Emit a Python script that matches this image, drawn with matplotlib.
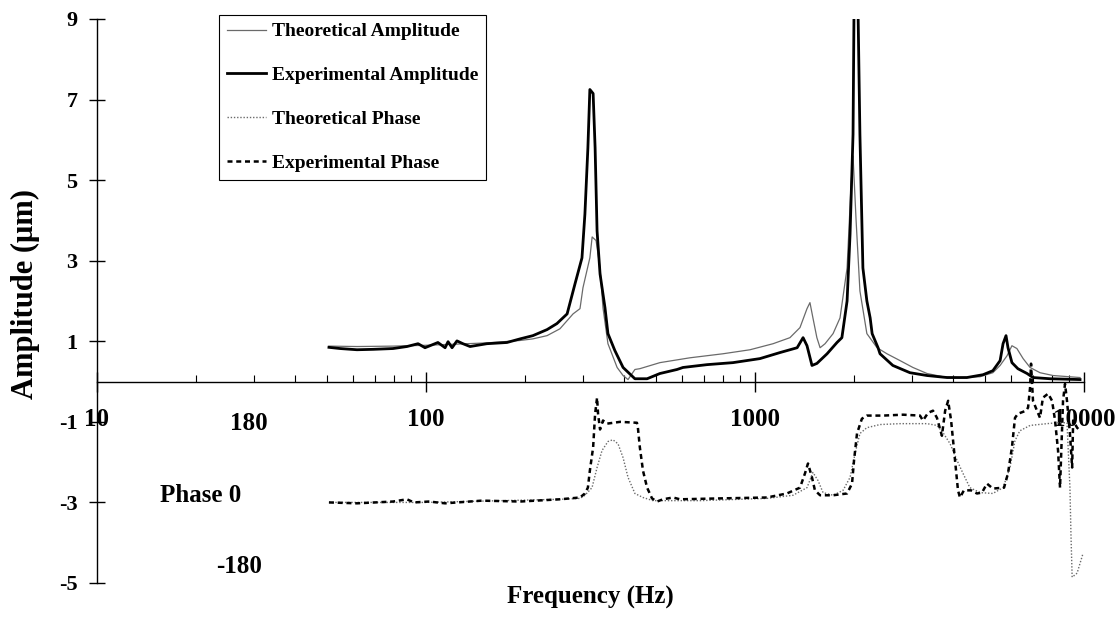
import matplotlib
matplotlib.use("Agg")
import matplotlib.pyplot as plt
from matplotlib.ticker import LogLocator, NullFormatter
import numpy as np

# ---------------- data ----------------
exp_amp_freq = [50.7, 54.8, 61.7, 69.0, 79.4, 87.5, 94.6, 99.3, 108.7, 114.3, 116.7, 120.0,
                124.2, 129.5, 136.1, 153.1, 176.2, 193.2, 211.3, 233.3, 250.0, 268.5, 283.8,
                297.9, 304.1, 310.5, 314.8, 322.1, 326.6, 331.1, 338.1, 350.0, 357.3, 375.0,
                397.2, 431.5, 469.9, 514.0, 579.4, 604, 714.5, 857, 1035, 1191, 1343, 1400,
                1439, 1490, 1542, 1656, 1775, 1837, 1905, 1945, 1986, 2000, 2056, 2084, 2128,
                2188, 2239, 2270, 2366, 2399, 2624, 2958, 3334, 3837, 4406, 4932, 5284, 5559,
                5675, 5794, 5875, 6039, 6295, 6714, 6998, 7889, 9727]
exp_amp = [0.85, 0.82, 0.79, 0.80, 0.82, 0.87, 0.94, 0.84, 0.97, 0.84, 0.99, 0.84,
           1.01, 0.94, 0.87, 0.94, 0.97, 1.06, 1.14, 1.29, 1.44, 1.68, 2.43,
           3.07, 4.16, 5.80, 7.25, 7.15, 5.80, 3.74, 2.67, 1.83, 1.19, 0.77,
           0.35, 0.07, 0.07, 0.20, 0.30, 0.35, 0.42, 0.47, 0.57, 0.72, 0.84, 1.09,
           0.89, 0.40, 0.45, 0.69, 0.97, 1.09, 2.00, 3.66, 6.14, 9.3, 9.3, 6.14, 2.82,
           2.00, 1.58, 1.19, 0.84, 0.69, 0.40, 0.22, 0.15, 0.10, 0.10, 0.17, 0.27, 0.52,
           0.94, 1.14, 0.84, 0.47, 0.32, 0.20, 0.10, 0.07, 0.05]

theo_amp_freq = [50.7, 61.7, 79.4, 99.3, 124.2, 153.1, 193.2, 211.3, 233.3, 255.3, 279.9,
                 293.8, 300.0, 314.8, 319.9, 328.8, 338.1, 345.1, 357.3, 381.0, 397.2, 411.2,
                 431.5, 446.7, 514.0, 634, 799, 966, 1135, 1277, 1370, 1439, 1469, 1500, 1542,
                 1577, 1633, 1727, 1813, 1905, 1959, 1986, 2029, 2084, 2188, 2350, 2518, 2760,
                 3020, 3334, 3727, 4198, 4830, 5284, 5559, 5834, 6039, 6252, 6531, 6855, 7350,
                 8054, 9727]
theo_amp = [0.88, 0.87, 0.88, 0.90, 0.93, 0.96, 1.02, 1.06, 1.14, 1.31, 1.68,
            1.81, 2.33, 3.07, 3.59, 3.50, 2.82, 1.83, 0.94, 0.35, 0.15, 0.05,
            0.30, 0.32, 0.47, 0.59, 0.69, 0.79, 0.94, 1.09, 1.34, 1.81, 1.96, 1.58, 1.09,
            0.84, 0.94, 1.19, 1.58, 2.82, 4.9, 5.6, 4.0, 2.25, 1.19, 0.84, 0.69, 0.52,
            0.35, 0.20, 0.12, 0.10, 0.12, 0.22, 0.40, 0.64, 0.89, 0.82, 0.57, 0.35, 0.22,
            0.15, 0.10]

# phase in degrees
exp_ph_freq = [50.7, 61.7, 79.4, 87.5, 91.9, 102.1, 114.3, 147.9, 193.2, 255.3, 293.8, 304.1,
               310.5, 314.8, 322.1, 326.6, 331.1, 333.4, 338.1, 345.1, 354.9, 389, 437.6,
               440.6, 446.7, 456.6, 469.9, 486.4, 503.8, 525, 563.6, 591.6, 783.1, 1087, 1250,
               1370, 1419, 1449, 1490, 1521, 1577, 1727, 1905, 1972, 2000, 2042, 2113, 2188,
               2449, 2818, 3173, 3240, 3357, 3475, 3573, 3699, 3784, 3864, 3945, 4055, 4140,
               4198, 4315, 4535, 4728, 4898, 5070, 5284, 5715, 5875, 6039, 6170, 6295, 6668,
               6761, 6855, 6903, 6998, 7196, 7350, 7500, 7780, 7998, 8166, 8339, 8455, 8635,
               8756, 8878, 9063, 9204, 9268, 9528, 9727]
exp_ph = [0, -2, 2, 7, 0, 2, -2, 4, 2, 7, 11, 20,
          33, 71, 123, 198, 234, 198, 163, 183, 176, 180, 178,
          167, 123, 71, 33, 9, 2, 7, 11, 7, 9, 11, 20,
          33, 65, 87, 56, 27, 16, 16, 20, 42, 94, 154, 187, 194,
          194, 196, 194, 183, 200, 205, 189, 149, 205, 227, 183, 94, 27,
          11, 27, 27, 20, 22, 42, 31, 33, 65, 123, 189, 198, 205,
          212, 256, 310, 227, 205, 189, 234, 243, 227, 183, 116, 33, 227,
          265, 227, 154, 78, 183, 167, 160]

theo_ph_freq = [50.7, 99.3, 255.3, 293.8, 304.1, 319.6, 331.1, 342.8, 357.3, 369.8, 383.4,
                397.2, 411.2, 431.5, 456.6, 489.8, 680.8, 1087, 1305, 1439, 1500, 1554, 1610,
                1727, 1852, 1945, 2014, 2084, 2188, 2399, 2759, 3334, 3573, 3727, 3918, 4112,
                4287, 4499, 4830, 5284, 5675, 5957, 6170, 6383, 6855, 7720, 8279, 8878, 9063,
                9126, 9204, 9528, 9931]
theo_ph = [0, 0, 7, 9, 16, 33, 78, 116, 136, 140, 131,
           100, 56, 20, 11, 4, 4, 9, 16, 33, 67, 49, 22,
           16, 27, 56, 109, 154, 167, 174, 176, 176, 172, 156, 131, 94,
           65, 33, 22, 20, 33, 78, 138, 160, 172, 176, 178, 178, 33,
           -69, -167, -158, -114]

series_labels = ["Theoretical Amplitude", "Experimental Amplitude",
                 "Theoretical Phase", "Experimental Phase"]
x_ticks = [10, 100, 1000, 10000]
x_tick_labels = ["10", "100", "1000", "10000"]
y_ticks = [-5, -3, -1, 1, 3, 5, 7, 9]
phase_scale_labels = ["180", "Phase 0", "-180"]

# phase is drawn on the amplitude axis: 0 deg at -3, 90 deg per unit
PHASE_ZERO = -3.0
DEG_PER_UNIT = 90.0


def phase_to_axis(deg):
    return PHASE_ZERO + np.asarray(deg, dtype=float) / DEG_PER_UNIT


# ---------------- figure ----------------
plt.rcParams["font.family"] = ["Liberation Serif", "DejaVu Serif"]
plt.rcParams["font.weight"] = "bold"
plt.rcParams["axes.unicode_minus"] = False

fig = plt.figure(figsize=(11.17, 6.18), dpi=100)
ax = fig.add_axes([97 / 1117, 35 / 618, 987 / 1117, 564 / 618])
ax.set_xscale("log")

gray = "#6a6a6a"
ax.plot(theo_amp_freq, theo_amp, color=gray, lw=0.9, label=series_labels[0])
ax.plot(exp_amp_freq, exp_amp, color="black", lw=2.0, label=series_labels[1])
ax.plot(theo_ph_freq, phase_to_axis(theo_ph), color=gray, lw=1.0,
        ls=(0, (1, 1.3)), label=series_labels[2])
ax.plot(exp_ph_freq, phase_to_axis(exp_ph), color="black", lw=1.8,
        ls=(0, (2, 1.5)), label=series_labels[3])

ax.set_xlim(10, 10000)
ax.set_ylim(-5, 9)

for s in ("top", "right"):
    ax.spines[s].set_visible(False)
ax.spines["bottom"].set_position(("data", 0))
ax.spines["bottom"].set_linewidth(1.0)
ax.spines["left"].set_linewidth(1.0)

ax.set_yticks(y_ticks)
ax.tick_params(axis="y", direction="inout", length=12, width=1, labelsize=16, pad=8)

ax.set_xticks(x_ticks, labels=x_tick_labels)
ax.xaxis.set_minor_locator(LogLocator(base=10, subs=np.arange(2, 10)))
ax.xaxis.set_minor_formatter(NullFormatter())
ax.tick_params(axis="x", which="major", direction="inout", length=14, width=1,
               labelsize=18, pad=12)
ax.tick_params(axis="x", which="minor", direction="in", length=5, width=0.8)

ax.set_ylabel("Amplitude (\u03bcm)", fontsize=22, fontweight="bold")
ax.yaxis.set_label_coords(-0.058, 0.512)
ax.set_xlabel("Frequency (Hz)", fontsize=18, fontweight="bold")
ax.xaxis.set_label_coords(0.5, -0.005)

# phase scale annotations
ax.text(29.0, -1.04, phase_scale_labels[0], ha="center", va="center", fontsize=18)
ax.text(20.7, -2.82, phase_scale_labels[1], ha="center", va="center", fontsize=18)
ax.text(27.0, -4.6, phase_scale_labels[2], ha="center", va="center", fontsize=18)

leg = ax.legend(loc="upper left", bbox_to_anchor=(219 / 1117, 1 - 15 / 618),
                bbox_transform=fig.transFigure, fontsize=14, frameon=True,
                fancybox=False, edgecolor="black", framealpha=1, borderpad=0.4,
                labelspacing=1.35, handlelength=2.0, handletextpad=0.3,
                borderaxespad=0)
leg.get_frame().set_linewidth(0.8)

fig.savefig("out.png", dpi=100)
